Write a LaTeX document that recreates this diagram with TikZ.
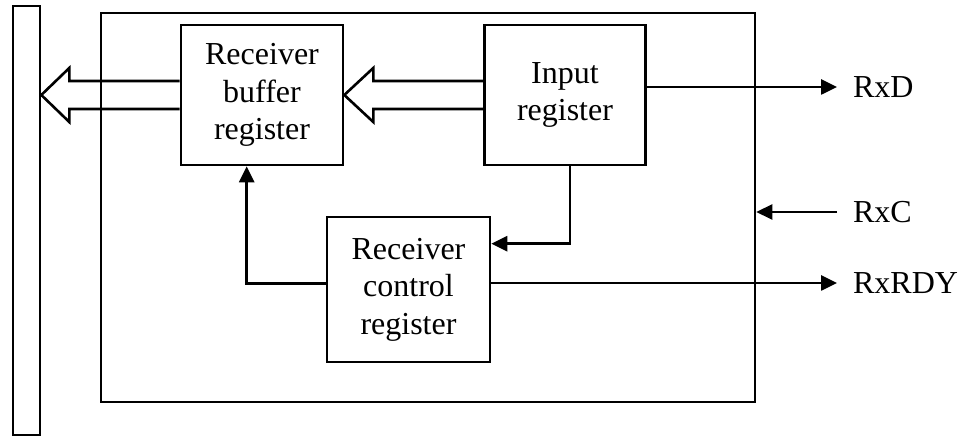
\documentclass[tikz,border=0pt]{standalone}
\usepackage{fontspec}
\setmainfont{Liberation Serif}
\usepackage{tikz}
\usetikzlibrary{arrows.meta, calc}

\begin{document}
\begin{tikzpicture}[
    x=0.5pt, y=-0.5pt,
    every node/.style={font=\fontsize{16}{18.8}\selectfont},
    regbox/.style={draw, line width=1.3pt, align=center, inner sep=0pt},
    frame/.style={draw, line width=1.3pt, inner sep=0pt},
    sig/.style={line width=1.3pt, -{Triangle[length=8pt, width=7.5pt]}},
    hollow/.style={line width=1.3pt, line join=miter}
]
    \useasboundingbox (0,0) rectangle (960,438);

    % Bus und Rahmen
    \node[frame, minimum width=13.5pt, minimum height=214.5pt] (bus) at (26.5, 220.5) {};
    \node[frame, minimum width=327pt, minimum height=194.5pt] (outer) at (428, 207.5) {};

    % Register
    \node[regbox, minimum width=81pt, minimum height=70pt] (buf) at (262, 95) {Receiver\\buffer\\register};
    \node[regbox, minimum width=80.5pt, minimum height=70pt] (inp) at (565, 95) {Input\\register};
    \node[regbox, minimum width=81.5pt, minimum height=72.5pt] (ctrl) at (408.5, 289.5) {Receiver\\control\\register};

    % Breite Pfeile (Datenpfad)
    \draw[hollow] ($(buf.west)+(0,-14)$) -- ($(bus.east |- buf.west)+(28,-14)$) -- ++(0,-13)
        -- (bus.east |- buf.west) -- ++(28,27) -- ++(0,-13) -- ($(buf.west)+(0,14)$);
    \draw[hollow] ($(inp.west)+(0,-14)$) -- ($(buf.east)+(29,-14)$) -- ++(0,-13)
        -- (buf.east) -- ++(29,27) -- ++(0,-13) -- ($(inp.west)+(0,14)$);

    % Externe Signale
    \coordinate (rxd) at (837, 87);
    \coordinate (rxc) at (837, 212);
    \coordinate (rxrdy) at (837, 283);
    \node[anchor=west] (lrxd) at ($(rxd)+(9,0)$) {RxD};
    \node[anchor=west] (lrxc) at ($(rxc)+(9,0)$) {RxC};
    \node[anchor=west] (lrxrdy) at ($(rxrdy)+(9,0)$) {RxRDY};

    \draw[sig] (inp.east |- rxd) -- (rxd);
    \draw[sig] (rxc) -- (outer.east |- rxc);
    \draw[sig] (ctrl.east |- rxrdy) -- (rxrdy);

    % Steuerleitungen
    \draw[sig] ($(inp.south)+(5,0)$) |- ($(ctrl.north east)+(0,28)$);
    \draw[sig] ($(ctrl.west)+(0,-6)$) -| ($(buf.south west)+(67,0)$);

\end{tikzpicture}
\end{document}
